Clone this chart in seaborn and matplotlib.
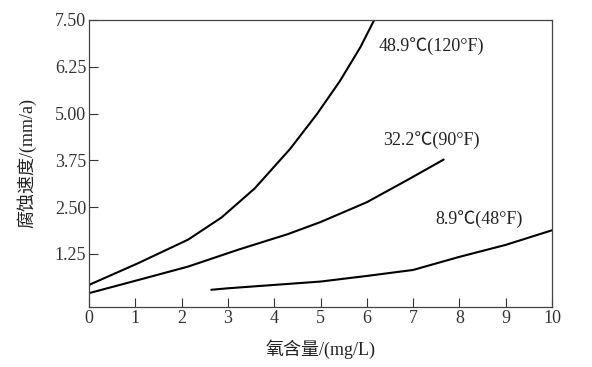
import matplotlib
matplotlib.use("Agg")
import matplotlib.pyplot as plt
import seaborn as sns
import pandas as pd

# Data
x_489 = [0, 1.06, 2.14, 2.86, 3.58, 4.34, 4.92, 5.42, 5.86, 6.16]
y_489 = [0.42, 1.00, 1.63, 2.22, 3.00, 4.05, 4.98, 5.87, 6.77, 7.50]
x_322 = [0, 1.06, 2.14, 3.22, 4.3, 5, 6, 6.87, 7.66]
y_322 = [0.20, 0.55, 0.91, 1.36, 1.78, 2.10, 2.63, 3.22, 3.77]
x_89 = [2.64, 3, 4, 5, 6, 7, 7.4, 8, 9, 10]
y_89 = [0.29, 0.33, 0.42, 0.51, 0.66, 0.82, 0.96, 1.17, 1.49, 1.88]
series_names = ["48.9℃(120°F)", "32.2℃(90°F)", "8.9℃(48°F)"]
label_x = [6.25, 6.35, 7.48]
label_y = [6.8, 4.3, 2.19]
x_ticks = [0, 1, 2, 3, 4, 5, 6, 7, 8, 9, 10]
y_ticks = [1.25, 2.50, 3.75, 5.00, 6.25, 7.50]
y_tick_labels = ["1.25", "2.50", "3.75", "5.00", "6.25", "7.50"]

df = pd.concat([
    pd.DataFrame({"x": x_489, "y": y_489, "s": series_names[0]}),
    pd.DataFrame({"x": x_322, "y": y_322, "s": series_names[1]}),
    pd.DataFrame({"x": x_89, "y": y_89, "s": series_names[2]}),
])

sns.set_style("white")
plt.rcParams["font.family"] = ["Liberation Serif", "Noto Sans CJK SC", "DejaVu Sans"]

fig = plt.figure(figsize=(5.92, 3.67), dpi=100)
ax = fig.add_axes([89 / 592, 1 - 307 / 367, (552 - 89) / 592, (307 - 20) / 367])
sns.lineplot(data=df, x="x", y="y", hue="s", palette=["black"] * 3,
             linewidth=1.5, legend=False, ax=ax, sort=False)

for n, lx, ly in zip(series_names, label_x, label_y):
    ax.text(lx, ly, n, fontsize=13, va="center", ha="left", color="#222222")

ax.set_xlim(0, 10)
ax.set_ylim(-0.17, 7.5)
ax.set_xticks(x_ticks)
ax.set_yticks(y_ticks)
ax.set_yticklabels(y_tick_labels)
ax.tick_params(direction="in", length=6.5, width=0.8, colors="#333333",
               labelsize=13, labelcolor="#333333", left=True, bottom=True, pad=2)
for sp in ax.spines.values():
    sp.set_color("#444444")
    sp.set_linewidth(0.9)
ax.set_xlabel("氧含量/(mg/L)", fontsize=13, color="#222222",
              family=["Liberation Serif", "Noto Sans CJK SC"], labelpad=9)
ax.set_ylabel("腐蚀速度/(mm/a)", fontsize=13, color="#222222",
              family=["Liberation Serif", "Noto Sans CJK SC"], labelpad=13)

fig.savefig("out.png", dpi=100)
